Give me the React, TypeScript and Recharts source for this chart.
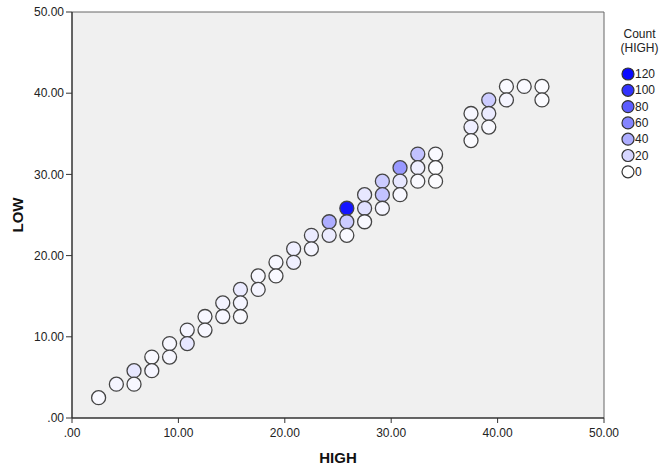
import React from 'react';
import { ScatterChart, Scatter, XAxis, YAxis, CartesianGrid, ReferenceLine } from 'recharts';

const highs = [2.5, 4.17, 5.83, 5.83, 7.5, 7.5, 9.17, 9.17, 10.83, 10.83, 12.5, 12.5, 14.17, 14.17, 15.83, 15.83, 15.83, 17.5, 17.5, 19.17, 19.17, 20.83, 20.83, 22.5, 22.5, 24.17, 24.17, 25.83, 25.83, 25.83, 27.5, 27.5, 27.5, 29.17, 29.17, 29.17, 30.83, 30.83, 30.83, 32.5, 32.5, 32.5, 34.17, 34.17, 34.17, 37.5, 37.5, 37.5, 39.17, 39.17, 39.17, 40.83, 40.83, 42.5, 44.17, 44.17];
const lows = [2.5, 4.17, 5.83, 4.17, 7.5, 5.83, 9.17, 7.5, 10.83, 9.17, 12.5, 10.83, 14.17, 12.5, 15.83, 14.17, 12.5, 17.5, 15.83, 19.17, 17.5, 20.83, 19.17, 22.5, 20.83, 24.17, 22.5, 25.83, 24.17, 22.5, 27.5, 25.83, 24.17, 29.17, 27.5, 25.83, 30.83, 29.17, 27.5, 32.5, 30.83, 29.17, 32.5, 30.83, 29.17, 37.5, 35.83, 34.17, 39.17, 37.5, 35.83, 40.83, 39.17, 40.83, 40.83, 39.17];
const counts = [3, 5, 12, 4, 3, 5, 4, 4, 5, 12, 4, 4, 6, 4, 10, 5, 3, 4, 5, 4, 3, 8, 8, 10, 5, 40, 10, 115, 25, 3, 12, 15, 3, 25, 30, 5, 50, 12, 4, 30, 8, 3, 3, 2, 2, 4, 8, 2, 25, 10, 3, 3, 5, 3, 2, 2];

const axisTicks = [0, 10, 20, 30, 40, 50];
const legendValues = [120, 100, 80, 60, 40, 20, 0];

const data = highs.map((h, i) => ({ high: h, low: lows[i], count: counts[i] }));

const MAXC = 125;
const colorFor = (c: number) => {
  const t = Math.min(1, c / MAXC);
  const v = Math.round(255 * (1 - t));
  return `rgb(${v},${v},255)`;
};

const fmt = (v: number) => (v === 0 ? '.00' : v.toFixed(2));
const FONT = '"Liberation Sans", Arial, sans-serif';

const Dot = (props: any) => {
  const { cx, cy, payload } = props;
  return <circle cx={cx} cy={cy} r={7} fill={colorFor(payload.count)} stroke="#444" strokeWidth={1.3} />;
};

export default function App() {
  return (
    <div style={{ position: 'absolute', left: 0, top: 0, width: 667, height: 469, background: '#fff', fontFamily: FONT }}>
      <ScatterChart width={667} height={469} margin={{ top: 12, right: 63, left: 0, bottom: 0 }}>
        <CartesianGrid horizontal={false} vertical={false} fill="#f0f0f0" />
        <XAxis
          type="number"
          dataKey="high"
          domain={[0, 50]}
          ticks={axisTicks}
          tickFormatter={fmt}
          height={51}
          tickSize={5}
          tickMargin={5}
          tick={{ fontSize: 12, fill: '#222', fontFamily: FONT }}
          axisLine={{ stroke: '#333', strokeWidth: 1.5 }}
          tickLine={{ stroke: '#333' }}
          label={{ value: 'HIGH', position: 'insideBottom', offset: 6, style: { fontSize: 15, fontWeight: 'bold', fill: '#111', fontFamily: FONT } }}
        />
        <YAxis
          type="number"
          dataKey="low"
          domain={[0, 50]}
          ticks={axisTicks}
          tickFormatter={fmt}
          width={72}
          tickSize={6}
          tick={{ fontSize: 12, fill: '#222', fontFamily: FONT }}
          axisLine={{ stroke: '#333', strokeWidth: 1.5 }}
          tickLine={{ stroke: '#333' }}
          label={{
            content: () => (
              <text x={17} y={215} transform="rotate(-90 17 215)" textAnchor="middle" dominantBaseline="central" style={{ fontSize: 15, fontWeight: 'bold', fill: '#111', fontFamily: FONT }}>
                LOW
              </text>
            ),
          }}
        />
        <ReferenceLine y={50} stroke="#666" strokeWidth={1} />
        <ReferenceLine x={50} stroke="#666" strokeWidth={1} />
        <Scatter data={data} shape={Dot} isAnimationActive={false} />
      </ScatterChart>
      <div style={{ position: 'absolute', left: 612, top: 27, width: 55, fontSize: 12, color: '#222', lineHeight: '14px', textAlign: 'center' }}>
        <div>Count</div>
        <div>(HIGH)</div>
      </div>
      <svg style={{ position: 'absolute', left: 612, top: 64 }} width={55} height={116}>
        {legendValues.map((v, i) => (
          <g key={v}>
            <circle cx={16} cy={10 + i * 16.3} r={6} fill={colorFor(v)} stroke="#333" strokeWidth={1.2} />
            <text x={23} y={10 + i * 16.3} dominantBaseline="central" style={{ fontSize: 12, fill: '#222', fontFamily: FONT }}>
              {v}
            </text>
          </g>
        ))}
      </svg>
    </div>
  );
}
